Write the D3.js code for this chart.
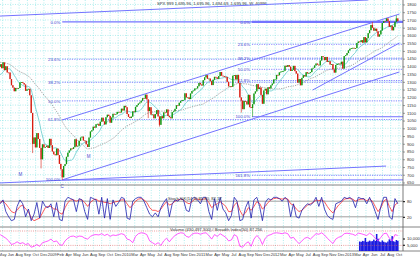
<!DOCTYPE html>
<html><head><meta charset="utf-8">
<script src="https://cdn.jsdelivr.net/npm/d3@7"></script>
<style>body{margin:0;background:#fff}svg{display:block}text{font-family:"Liberation Sans",Arial,sans-serif}</style>
</head><body>
<svg id="c" width="420" height="257"></svg>
<script>
// ---------- DATA ----------
const firstWeek = "2008-05-02";
const preHistoryClose = [1433,1453,1445,1479,1474,1454,1484,1525,1527,1557,1561,1500,1535,1509,1453,1458,1440,1481,1504,1467,1484,1478,1411,1401,1325,1330,1395,1331,1349,1353,1331,1294,1288,1330,1316,1370,1332,1390,1398];
const weeklyClose = [
1413.9,1388.3,1425.4,1375.9,1400.4,1360.7,1360.0,1317.9,1278.4,1262.9,1239.5,1260.7,1257.8,1260.3,1296.3,1298.2,1292.2,1282.8,1242.3,1251.7,1255.1,1213.3,1099.2,899.2,940.6,876.8,968.8,931.0,873.3,800.0,896.2,876.1,879.7,887.9,872.8,
931.8,890.4,850.1,832.0,825.9,868.6,826.8,770.1,735.1,683.4,756.6,768.5,815.9,842.5,856.6,869.6,866.2,877.5,929.2,882.9,887.0,919.1,940.1,946.2,921.2,918.9,896.4,879.1,940.4,979.3,987.5,1010.5,1004.1,1026.1,1028.9,1016.4,1042.7,1068.3,1044.4,1025.2,1071.5,1087.7,1079.6,1036.2,1069.3,1093.5,1091.4,1091.5,1106.0,1106.4,1102.5,1126.5,
1115.1,1145.0,1136.0,1091.8,1073.9,1066.2,1075.5,1109.2,1104.5,1138.7,1150.0,1159.9,1166.6,1178.1,1194.4,1192.1,1217.3,1186.7,1110.9,1135.7,1087.7,1089.4,1064.9,1091.6,1117.5,1076.8,1022.6,1078.0,1064.9,1102.7,1101.6,1121.6,1079.3,1071.7,1064.6,1104.5,1109.6,1125.6,1148.7,1146.2,1165.2,1176.2,1183.1,1183.3,1225.9,1199.2,1199.7,1189.4,1224.7,1240.4,1243.9,1256.8,1257.6,
1271.5,1293.2,1283.4,1276.3,1310.9,1329.2,1343.0,1319.9,1321.2,1304.3,1279.2,1313.8,1332.4,1328.2,1319.7,1337.4,1363.6,1340.2,1337.8,1333.3,1331.1,1300.2,1271.0,1271.5,1268.5,1339.7,1343.8,1316.1,1345.0,1292.3,1199.4,1178.8,1123.5,1176.8,1174.0,1154.2,1216.0,1136.4,1131.4,1155.5,1224.6,1238.3,1285.1,1253.2,1263.9,1215.7,1158.7,1244.3,1255.2,1219.7,1265.3,1257.6,
1277.8,1289.1,1315.4,1316.3,1344.9,1342.6,1361.2,1365.7,1370.0,1370.9,1404.2,1397.1,1408.5,1398.1,1370.3,1378.5,1403.4,1369.1,1353.4,1295.2,1317.8,1278.0,1325.7,1342.8,1335.0,1362.2,1354.7,1356.8,1362.7,1386.0,1391.0,1405.9,1418.2,1411.1,1406.6,1437.9,1465.8,1460.2,1440.7,1460.9,1428.6,1433.2,1411.9,1414.2,1379.9,1359.9,1409.2,1416.2,1418.1,1413.6,1430.2,1385.6,
1466.5,1472.1,1486.0,1503.0,1513.2,1517.9,1519.8,1515.6,1518.2,1551.2,1560.7,1556.9,1569.2,1553.3,1588.9,1555.3,1582.2,1614.4,1633.7,1667.5,1649.6,1630.7,1643.4,1626.7,1592.4,1606.3,1631.9,1680.2,1692.1,1691.7,1709.7,1691.4,1655.8,1663.5,1633.0,1655.2,1688.0,1709.9,1691.8];
const wickExtremes = [
 {date:"2008-10-10", low:839.8},{date:"2008-11-21", low:741.0},{date:"2009-03-06", low:666.8},
 {date:"2010-05-07", low:1065.8},{date:"2010-07-02", low:1010.9},{date:"2011-08-12", low:1101.5},
 {date:"2011-10-07", low:1074.8},{date:"2013-05-24", high:1687.2},{date:"2013-08-02", high:1709.7},{date:"2013-09-20", high:1729.9}];
const priceTicks = [650,700,750,800,850,900,950,1000,1050,1100,1150,1200,1250,1300,1350,1400,1450,1500,1550,1600,1650,1700,1750,1800];
// Fibonacci retracements
const fibLevels = [0,23.6,38.2,50,61.8,100];
const fibLevelsRight = [0,23.6,38.2,50,61.8,100,161.8];
const fibLeft = {start:"2009-03-06", low:666.79, high:1687.18};
const fibRight = {start:"2011-10-04", low:1074.77, high:1687.18};
// trend lines: [date1, price1, date2, price2]
const trendLines = [
 ["2008-05-01",1725,"2013-05-04",1829],
 ["2008-05-01",647,"2013-07-31",756],
 ["2009-03-06",666.8,"2013-10-05",1364],
 ["2009-03-06",1054,"2013-10-05",1738],
 ["2012-07-31",1247,"2013-10-05",1551]
];
const waveLabels = [{date:"2008-08-10",price:695,t:"M"},{date:"2009-07-15",price:810,t:"M"},{date:"2009-03-06",price:615,t:"C"}];
// oscillator (biweekly)
const oscFast = [70,85,40,20,5,10,60,85,70,20,50,5,30,75,15,80,60,55,70,20,75,10,5,80,95,90,85,40,90,85,40,10,95,90,85,30,95,15,90,10,85,60,75,95,90,15,10,80,90,95,95,80,55,30,20,35,20,55,75,90,20,70,85,80,90,85,45,40,90,95,85,70,95,95,40,10,90,45,95,50,35,5,25,95,80,5,10,55,80,15,85,95,60,5,75,90,85,95,95,90,80,95,85,20,70,20,15,45,60,70,65,75,95,60,95,50,25,15,10,70,75,80,95,90,95,85,55,95,90,90,70,95,70,40,10,60,95,95,20,10,90,70];
const oscSlow = [75,80,70,55,40,35,45,60,65,50,40,15,5,10,15,35,55,60,60,50,50,35,30,55,75,85,85,80,85,85,75,60,75,85,88,80,80,75,75,70,75,78,80,85,85,70,55,65,80,88,90,85,75,55,45,45,40,50,65,78,65,70,80,85,88,85,75,70,78,88,88,85,88,90,75,55,65,70,78,70,60,40,40,65,75,45,25,35,55,45,60,78,72,50,60,75,85,90,92,90,88,90,88,70,65,50,40,45,55,65,70,75,85,82,85,78,60,45,35,50,65,75,88,90,90,88,80,85,88,88,82,88,80,60,40,55,80,88,60,40,65,75];
const breadth = [80,70,60,45,25,30,40,30,35,25,30,10,15,25,15,35,40,45,55,40,45,25,20,45,60,70,72,65,72,70,60,55,70,78,80,78,85,75,82,70,78,75,80,85,80,55,50,35,70,85,90,88,80,45,35,25,35,20,45,60,40,60,75,85,90,88,70,65,82,88,88,82,88,90,75,55,80,70,85,75,65,45,50,80,70,15,10,30,40,15,55,75,60,25,60,75,80,88,90,88,85,90,85,60,65,45,30,45,60,65,55,70,85,82,90,78,60,45,30,55,65,70,85,88,85,82,75,88,85,80,75,88,78,60,45,65,85,88,60,45,80,75];
const volumeStart = "2013-03-22";
const volume = [7600,7200,8100,7800,10400,7300,7500,8300,7700,7900,9100,8000,13600,9800,7600,7100,8400,7400,6900,6700,7600,9300,8200,11900,7800,7300,8800,8100];
const headerText = "SPX 999 1,695.96, 1,695.96, 1,694.69, 1,695.96, W. 40996";
const oscText = "Stoch %K(14,3) 85.30, 82.17";
const breadthText = "Volume (430,497,300) / Breadth Index(50) 87.256";

// ---------- LAYOUT ----------
const svg = d3.select("#c");
const W = 403;
const parse = d3.timeParse("%Y-%m-%d");
const x = d3.scaleTime().domain([new Date(2008,4,1), new Date(2013,9,8)]).range([0,400]);
const y = d3.scaleLinear().domain([633.7,1828.8]).range([185,0]);
const t0 = parse(firstWeek);
const weeks = weeklyClose.map((c,i)=>({date:d3.timeDay.offset(t0,7*i), close:c, open: i? weeklyClose[i-1] : preHistoryClose[preHistoryClose.length-1]}));
const allClose = preHistoryClose.concat(weeklyClose);
const ma = n => weeklyClose.map((c,i)=>{const k=i+preHistoryClose.length; return d3.mean(allClose.slice(k-n+1,k+1));});
const ma10 = ma(10), ma40 = ma(40);

const defs = svg.append("defs");
defs.append("clipPath").attr("id","cp1").append("rect").attr("x",0).attr("y",0).attr("width",W).attr("height",185);
defs.append("clipPath").attr("id","cp2").append("rect").attr("x",0).attr("y",185).attr("width",W).attr("height",42);
defs.append("clipPath").attr("id","cp3").append("rect").attr("x",0).attr("y",227).attr("width",W).attr("height",24);

// grid
const tickDates = d3.range(0,49).map(k=>d3.timeDay.offset(new Date(2008,4,14),41*k)).filter(d=>x(d)<W);
const grid = svg.append("g");
grid.selectAll("line.v").data(tickDates).join("line").attr("x1",d=>x(d)).attr("x2",d=>x(d)).attr("y1",0).attr("y2",251)
  .attr("stroke","#7fe3e3").attr("stroke-width",0.6).attr("stroke-dasharray","1,1.5");
grid.selectAll("line.h").data(priceTicks).join("line").attr("x1",0).attr("x2",W).attr("y1",d=>y(d)).attr("y2",d=>y(d))
  .attr("stroke","#7fe3e3").attr("stroke-width",0.6).attr("stroke-dasharray","1,1.5");

// header
svg.append("text").attr("x",157).attr("y",5).attr("font-size",4.2).attr("fill","#333").text(headerText);

const g1 = svg.append("g").attr("clip-path","url(#cp1)");
const blue = "#7474ff";
trendLines.forEach(t=>{
  g1.append("line").attr("x1",x(parse(t[0]))).attr("y1",y(t[1])).attr("x2",x(parse(t[2]))).attr("y2",y(t[3]))
    .attr("stroke",blue).attr("stroke-width",1);
});
function drawFib(f, levels, thick){
  const x0 = x(parse(f.start));
  levels.forEach(l=>{
    const p = f.high - (f.high-f.low)*l/100;
    const solid = (l===0||l===100);
    g1.append("line").attr("x1",x0).attr("x2",W).attr("y1",y(p)).attr("y2",y(p))
      .attr("stroke",blue).attr("stroke-width", l===0?thick:(solid?1:0.9)).attr("stroke-dasharray",solid?null:"1.2,1.2");
    g1.append("text").attr("x",x0-2).attr("y",y(p)+1.6).attr("text-anchor","end").attr("font-size",4.3).attr("fill","#3b3bd0").text(l.toFixed(1)+"%");
  });
}
drawFib(fibLeft, fibLevels, 1.2);
drawFib(fibRight, fibLevelsRight, 2.2);

const line = d3.line().x((d,i)=>x(weeks[i].date)).y(d=>y(d)).curve(d3.curveMonotoneX);
g1.append("path").attr("d",line(ma40)).attr("fill","none").attr("stroke","#888").attr("stroke-width",0.8).attr("stroke-dasharray","1.2,1.2");
g1.append("path").attr("d",line(ma10)).attr("fill","none").attr("stroke","#5ec9c9").attr("stroke-width",0.8);

const cw = 1.3;
const extMap = new Map(wickExtremes.map(e=>[e.date,e]));
const fmt = d3.timeFormat("%Y-%m-%d");
const up = "#109810", dn = "#d81c10";
g1.selectAll("line.wk").data(weeks).join("line")
  .attr("x1",d=>x(d.date)).attr("x2",d=>x(d.date))
  .attr("y1",d=>{const e=extMap.get(fmt(d.date)); const hi=Math.max(d.open,d.close); return y(e&&e.high?e.high:hi);})
  .attr("y2",d=>{const e=extMap.get(fmt(d.date)); const lo=Math.min(d.open,d.close); return y(e&&e.low?e.low:lo);})
  .attr("stroke",d=>d.close>=d.open?up:dn).attr("stroke-width",0.6);
g1.selectAll("rect.cd").data(weeks).join("rect")
  .attr("x",d=>x(d.date)-cw/2).attr("width",cw)
  .attr("y",d=>y(Math.max(d.open,d.close))).attr("height",d=>Math.max(0.8,Math.abs(y(d.open)-y(d.close))))
  .attr("fill",d=>d.close>=d.open?up:dn);

waveLabels.forEach(w=>svg.append("text").attr("x",x(parse(w.date))).attr("y",y(w.price)).attr("text-anchor","middle").attr("font-size",4.5).attr("fill","#4a4ad0").text(w.t));

// right axis
svg.append("line").attr("x1",W).attr("x2",W).attr("y1",0).attr("y2",251).attr("stroke","#444").attr("stroke-width",0.7);
const ax = svg.append("g").attr("transform",`translate(${W},0)`).call(d3.axisRight(y).tickValues(priceTicks).tickSize(2).tickFormat(d3.format("d")));
ax.select(".domain").remove();
ax.selectAll("text").attr("font-size",4.2).attr("fill","#333").attr("x",4);
ax.selectAll("line").attr("stroke","#444").attr("stroke-width",0.5);

[185,227,251].forEach(v=>svg.append("line").attr("x1",0).attr("x2",420).attr("y1",v).attr("y2",v).attr("stroke","#666").attr("stroke-width",0.8));

// oscillator panel
const bi = oscFast.map((_,i)=>d3.timeDay.offset(t0,14*i));
const yo = d3.scaleLinear().domain([0,100]).range([222,196]);
const g2 = svg.append("g").attr("clip-path","url(#cp2)");
[80,20].forEach(v=>g2.append("line").attr("x1",0).attr("x2",W).attr("y1",yo(v)).attr("y2",yo(v)).attr("stroke","#777").attr("stroke-width",0.7));
g2.append("path").attr("d",d3.line().x((d,i)=>x(bi[i])).y(d=>yo(d))(oscSlow)).attr("fill","none").attr("stroke","#ff3030").attr("stroke-width",0.8);
g2.append("path").attr("d",d3.line().x((d,i)=>x(bi[i])).y(d=>yo(d))(oscFast)).attr("fill","none").attr("stroke","#2020b0").attr("stroke-width",0.8);
svg.append("text").attr("x",168).attr("y",200).attr("font-size",4.2).attr("fill","#333").text(oscText);
const ao = svg.append("g").attr("transform",`translate(${W},0)`).call(d3.axisRight(yo).tickValues([80,20]).tickSize(2));
ao.select(".domain").remove(); ao.selectAll("text").attr("font-size",4.2).attr("x",4).attr("fill","#333");

// breadth / volume panel
const g3 = svg.append("g").attr("clip-path","url(#cp3)");
const yb = d3.scaleLinear().domain([0,100]).range([249,231]);
const yv = d3.scaleLinear().domain([0,16000]).range([251,231]);
const vt = parse(volumeStart);
g3.selectAll("rect.v").data(volume).join("rect").attr("x",(d,i)=>x(d3.timeDay.offset(vt,7*i))-0.75).attr("width",1.55)
  .attr("y",d=>yv(d)).attr("height",d=>251-yv(d)).attr("fill","#1a1ae0");
[yb(100),yb(20)].forEach(v=>g3.append("line").attr("x1",0).attr("x2",W).attr("y1",v).attr("y2",v).attr("stroke","#e06060").attr("stroke-width",0.6).attr("stroke-dasharray","1,1.2"));
g3.append("path").attr("d",d3.line().x((d,i)=>x(bi[i])).y(d=>yb(d))(breadth)).attr("fill","none").attr("stroke","#ff30ff").attr("stroke-width",0.8);
svg.append("text").attr("x",170).attr("y",231).attr("font-size",4.2).attr("fill","#333").text(breadthText);
const av = svg.append("g").attr("transform",`translate(${W},0)`).call(d3.axisRight(yv).tickValues([5000,10000]).tickSize(2));
av.select(".domain").remove(); av.selectAll("text").attr("font-size",4.2).attr("x",4).attr("fill","#333");

// bottom axis labels
const mfmt = d3.timeFormat("%b");
svg.selectAll("text.xl").data(tickDates).join("text").attr("x",d=>x(d)).attr("y",256).attr("text-anchor","middle")
  .attr("font-size",4).attr("fill","#333").text(d=>d.getMonth()===0?d.getFullYear():mfmt(d));
</script>
</body></html>
